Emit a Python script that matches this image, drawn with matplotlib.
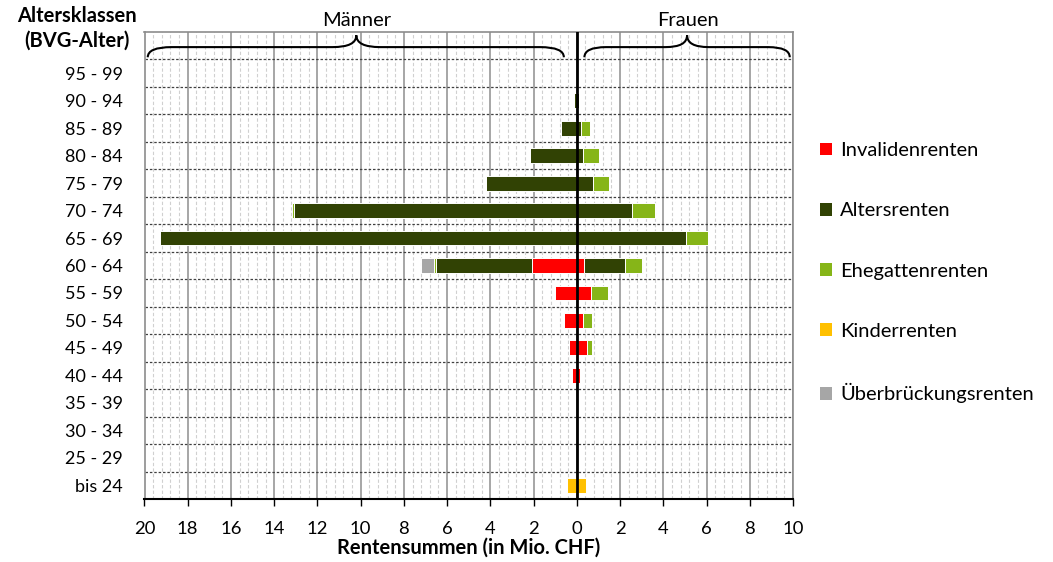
import matplotlib
matplotlib.use("Agg")
import matplotlib.pyplot as plt
import numpy as np
from matplotlib.path import Path
from matplotlib.patches import PathPatch, Patch
from matplotlib.ticker import MultipleLocator, FixedLocator

plt.rcParams['font.family'] = ['Lato', 'DejaVu Sans']

# ---- data (top to bottom) ----
age_classes = ["95 - 99", "90 - 94", "85 - 89", "80 - 84", "75 - 79", "70 - 74",
               "65 - 69", "60 - 64", "55 - 59", "50 - 54", "45 - 49", "40 - 44",
               "35 - 39", "30 - 34", "25 - 29", "bis 24"]

series_names = ["Invalidenrenten", "Altersrenten", "Ehegattenrenten",
                "Kinderrenten", "Überbrückungsrenten"]
series_colors = ["#FF0000", "#314204", "#86B518", "#FFC000", "#A6A6A6"]

# Männer (Mio. CHF)
inv_m = [0, 0, 0, 0, 0, 0, 0, 2.08, 1.00, 0.60, 0.37, 0.21, 0, 0, 0, 0]
alt_m = [0, 0.12, 0.74, 2.15, 4.19, 13.07, 19.26, 4.42, 0, 0, 0, 0, 0, 0, 0, 0]
ehe_m = [0, 0, 0, 0, 0, 0.11, 0.04, 0.09, 0, 0, 0, 0, 0, 0, 0, 0]
kin_m = [0, 0, 0, 0, 0, 0, 0, 0, 0, 0, 0, 0, 0, 0, 0, 0.46]
ueb_m = [0, 0, 0, 0, 0, 0, 0, 0.60, 0, 0, 0, 0, 0, 0, 0, 0]

# Frauen (Mio. CHF)
inv_w = [0, 0, 0, 0, 0, 0, 0, 0.34, 0.64, 0.30, 0.46, 0.14, 0, 0, 0, 0]
alt_w = [0, 0.10, 0.18, 0.28, 0.77, 2.54, 5.06, 1.88, 0, 0, 0, 0, 0, 0, 0, 0]
ehe_w = [0, 0, 0.43, 0.74, 0.74, 1.08, 1.03, 0.80, 0.82, 0.42, 0.23, 0, 0, 0, 0, 0]
kin_w = [0, 0, 0, 0, 0, 0, 0, 0, 0, 0, 0, 0, 0, 0, 0, 0.43]
ueb_w = [0, 0, 0, 0, 0, 0, 0, 0.05, 0, 0, 0, 0, 0, 0, 0, 0]

men = [inv_m, alt_m, ehe_m, kin_m, ueb_m]
women = [inv_w, alt_w, ehe_w, kin_w, ueb_w]

x_ticks = [-20, -18, -16, -14, -12, -10, -8, -6, -4, -2, 0, 2, 4, 6, 8, 10]
x_ticklabels = [str(abs(v)) for v in x_ticks]

# ---- figure ----
W, H = 1053, 562
fig = plt.figure(figsize=(W / 100, H / 100), dpi=100)
L, R, T, B = 144.5, 793, 32, 499
ax = fig.add_axes([L / W, 1 - B / H, (R - L) / W, (B - T) / H])

n = len(age_classes)
ypos = np.arange(n)[::-1]  # 95-99 at top (n-1), bis 24 at 0
bar_h = 0.54

for idx, (name, col) in enumerate(zip(series_names, series_colors)):
    vm = np.array(men[idx])
    vw = np.array(women[idx])
    left_m = -np.sum(np.array(men[:idx]), axis=0) if idx > 0 else np.zeros(n)
    left_w = np.sum(np.array(women[:idx]), axis=0) if idx > 0 else np.zeros(n)
    ax.barh(ypos, -vm, left=left_m, height=bar_h, color=col,
            edgecolor="white", linewidth=0.7, zorder=3)
    ax.barh(ypos, vw, left=left_w, height=bar_h, color=col,
            edgecolor="white", linewidth=0.7, zorder=3)

ax.set_xlim(-20, 10)
ax.set_ylim(-0.5, n + 0.5)

# grid
ax.xaxis.set_major_locator(FixedLocator(x_ticks))
ax.xaxis.set_minor_locator(MultipleLocator(0.4))
ax.set_xticklabels(x_ticklabels, fontsize=13.3)
ax.grid(which="major", axis="x", color="#A6A6A6", linewidth=1.4, zorder=0)
ax.grid(which="minor", axis="x", color="#D0D0D0", linewidth=0.8,
        linestyle=(0, (3, 2)), zorder=0)
ax.set_axisbelow(True)
for yb in np.arange(0.5, n + 0.5, 1.0):
    ax.axhline(yb, color="#404040", linewidth=0.9, linestyle=(0, (2, 1.5)), zorder=1)

ax.set_yticks(list(ypos))
ax.set_yticklabels(age_classes, fontsize=13)
ax.tick_params(axis="y", length=0, pad=15.5)
ax.tick_params(axis="x", which="major", length=5, width=1, color="black",
               direction="out", pad=11)
ax.tick_params(axis="x", which="minor", length=0)

for s in ["top", "left", "right"]:
    ax.spines[s].set_color("#8C8C8C")
    ax.spines[s].set_linewidth(1.2)
ax.spines["bottom"].set_color("black")
ax.spines["bottom"].set_linewidth(1.5)

ax.axvline(0, color="black", linewidth=2, zorder=5)

ax.set_xlabel("Rentensummen (in Mio. CHF)", fontsize=14.5, fontweight="bold",
              labelpad=0)

# braces
def brace(x0, x1, xt, yb, ym, yt, r=1.1):
    verts = [(x0, yb), (x0, ym), (x0 + r, ym),
             (xt - r, ym), (xt, ym), (xt, yt),
             (xt, ym), (xt + r, ym),
             (x1 - r, ym), (x1, ym), (x1, yb)]
    codes = [Path.MOVETO, Path.CURVE3, Path.CURVE3,
             Path.LINETO, Path.CURVE3, Path.CURVE3,
             Path.CURVE3, Path.CURVE3,
             Path.LINETO, Path.CURVE3, Path.CURVE3]
    ax.add_patch(PathPatch(Path(verts, codes), fill=False, edgecolor="black",
                           linewidth=1.5, zorder=6, clip_on=False))

top = n + 0.5
brace(-19.85, -0.6, -10.2, top - 0.92, top - 0.55, top - 0.12)
brace(0.35, 9.85, 5.1, top - 0.92, top - 0.55, top - 0.12, r=1.0)

fig.text(357 / W, 1 - 21 / H, "Männer", ha="center", va="center", fontsize=14.5)
fig.text(688 / W, 1 - 21 / H, "Frauen", ha="center", va="center", fontsize=14.5)

fig.text(77 / W, 1 - 16 / H, "Altersklassen", ha="center", va="center",
         fontsize=14.5, fontweight="bold")
fig.text(77 / W, 1 - 41 / H, "(BVG-Alter)", ha="center", va="center",
         fontsize=14.5, fontweight="bold")

handles = [Patch(facecolor=c, edgecolor="none") for c in series_colors]
fig.legend(handles, series_names, loc="upper left",
           bbox_to_anchor=(812 / W, 1 - 134 / H), frameon=False,
           fontsize=14.5, handlelength=0.6, handleheight=0.6,
           handletextpad=0.4, labelspacing=2.15, borderaxespad=0)

fig.savefig("out.png", dpi=100)
